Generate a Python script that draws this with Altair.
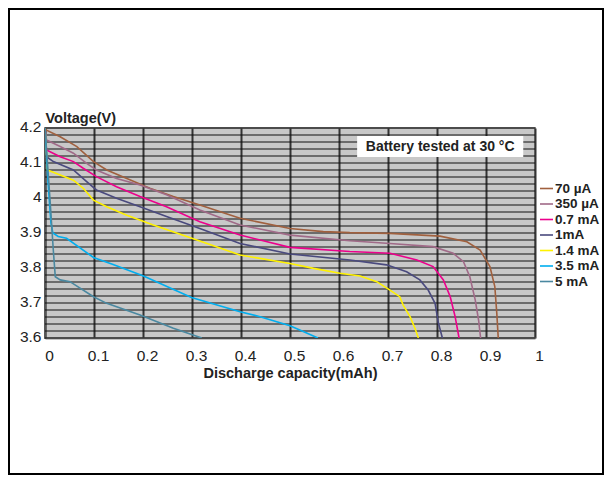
import altair as alt
import pandas as pd

series_names = ["70 µA", "350 µA", "0.7 mA", "1mA", "1.4 mA", "3.5 mA", "5 mA"]
series_colors = ["#a0603e", "#a06a88", "#ec008c", "#4a4a7e", "#fff200", "#00aeef", "#4a88a0"]
series_widths = [1.6, 1.6, 3.0, 1.6, 1.6, 1.6, 1.6]

s70_x = [0, 0.003, 0.031, 0.065, 0.099, 0.126, 0.167, 0.214, 0.262, 0.316, 0.398, 0.5, 0.568, 0.622, 0.704, 0.806, 0.861, 0.888, 0.908, 0.918, 0.922, 0.925]
s70_y = [4.2, 4.194, 4.175, 4.147, 4.104, 4.08, 4.056, 4.028, 4.004, 3.98, 3.942, 3.913, 3.904, 3.901, 3.899, 3.891, 3.875, 3.851, 3.804, 3.747, 3.671, 3.6]

s350_x = [0, 0.003, 0.031, 0.058, 0.085, 0.105, 0.146, 0.194, 0.248, 0.316, 0.398, 0.5, 0.622, 0.704, 0.792, 0.833, 0.854, 0.867, 0.878, 0.885, 0.889]
s350_y = [4.2, 4.166, 4.147, 4.128, 4.099, 4.08, 4.056, 4.037, 4.009, 3.966, 3.923, 3.894, 3.878, 3.870, 3.861, 3.842, 3.818, 3.775, 3.709, 3.65, 3.6]

s07_x = [0, 0.003, 0.031, 0.058, 0.078, 0.105, 0.146, 0.194, 0.248, 0.316, 0.398, 0.5, 0.622, 0.704, 0.759, 0.792, 0.813, 0.827, 0.837, 0.845]
s07_y = [4.2, 4.137, 4.118, 4.104, 4.085, 4.061, 4.032, 4.004, 3.975, 3.932, 3.894, 3.859, 3.847, 3.842, 3.823, 3.804, 3.766, 3.718, 3.661, 3.6]

s1_x = [0, 0.003, 0.017, 0.058, 0.085, 0.105, 0.146, 0.194, 0.248, 0.316, 0.398, 0.5, 0.622, 0.697, 0.738, 0.765, 0.782, 0.796, 0.803, 0.811]
s1_y = [4.2, 4.118, 4.104, 4.08, 4.047, 4.023, 3.999, 3.975, 3.947, 3.913, 3.87, 3.84, 3.823, 3.809, 3.789, 3.766, 3.737, 3.699, 3.642, 3.6]

s14_x = [0, 0.005, 0.031, 0.058, 0.078, 0.099, 0.126, 0.167, 0.221, 0.31, 0.398, 0.5, 0.548, 0.602, 0.643, 0.677, 0.704, 0.724, 0.731, 0.745, 0.755, 0.762]
s14_y = [4.2, 4.08, 4.066, 4.051, 4.028, 3.994, 3.975, 3.951, 3.923, 3.88, 3.837, 3.813, 3.799, 3.785, 3.777, 3.761, 3.737, 3.718, 3.694, 3.661, 3.628, 3.6]

s35_x = [0, 0.006, 0.012, 0.016, 0.027, 0.044, 0.099, 0.139, 0.201, 0.299, 0.398, 0.439, 0.5, 0.52, 0.557]
s35_y = [4.2, 4.05, 3.93, 3.9, 3.89, 3.885, 3.83, 3.81, 3.777, 3.716, 3.675, 3.661, 3.635, 3.623, 3.6]

s5_x = [0, 0.01, 0.017, 0.021, 0.031, 0.051, 0.099, 0.126, 0.194, 0.262, 0.32]
s5_y = [4.2, 4.0, 3.85, 3.775, 3.766, 3.761, 3.718, 3.699, 3.666, 3.628, 3.6]

x_ticks = [round(i * 0.1, 1) for i in range(11)]
y_ticks = [round(3.6 + i * 0.1, 1) for i in range(7)]
y_grid = [round(3.6 + i * 0.02, 2) for i in range(31)]

annotation_text = "Battery tested at 30 °C"
annotation_box = {"x": 0.637, "x2": 0.976, "y": 4.177, "y2": 4.117}

all_x = [s70_x, s350_x, s07_x, s1_x, s14_x, s35_x, s5_x]
all_y = [s70_y, s350_y, s07_y, s1_y, s14_y, s35_y, s5_y]

rows = []
for name, xs, ys in zip(series_names, all_x, all_y):
    for i, (xv, yv) in enumerate(zip(xs, ys)):
        rows.append({"series": name, "cap": xv, "volt": yv, "order": i})
df = pd.DataFrame(rows)

FONT = "Liberation Sans"
xscale = alt.Scale(domain=[0, 1], nice=False, zero=False)
yscale = alt.Scale(domain=[3.6, 4.2], nice=False, zero=False)

x_axis = alt.Axis(
    values=x_ticks, title="Discharge capacity(mAh)", grid=True,
    gridColor="#333333", gridWidth=2, tickSize=0, labelPadding=10,
    labelOffset=4, labelFontSize=15.5, labelColor="#222222",
    labelFont=FONT, labelExpr="format(datum.value, '.1~f')",
    titleFontSize=14.5, titleFontWeight="bold", titleFont=FONT, titleColor="#222222",
    titleY=28, titleBaseline="top", domainColor="#888888", domainWidth=2,
    labelFlush=False,
)
y_axis = alt.Axis(
    values=y_ticks, title="Voltage(V)", grid=False,
    tickSize=0, labelPadding=4, labelOffset=-2, labelFontSize=15.5,
    labelColor="#222222", labelFont=FONT,
    labelExpr="format(datum.value, '.1~f') == '4' ? '4\u2007' : format(datum.value, '.1~f')",
    titleAngle=0, titleAlign="left", titleX=0, titleY=-6, titleBaseline="alphabetic",
    titleFontSize=14.5, titleFontWeight="bold", titleFont=FONT, titleColor="#222222",
    domainColor="#555555", domainWidth=2, labelFlush=False, labelOverlap=False,
)

grid = alt.Chart(pd.DataFrame({"volt": y_grid})).mark_rule(
    color="#111111", strokeWidth=1.2
).encode(y=alt.Y("volt:Q", scale=yscale, axis=y_axis))

legend_kw = dict(
    title=None, orient="none", legendX=494, legendY=53,
    symbolType="stroke", symbolSize=169, labelFontSize=13.5,
    labelFontWeight="bold", labelFont=FONT, labelColor="#222222",
    rowPadding=1.5, labelOffset=1,
)

lines = alt.Chart(df).mark_line(clip=True).encode(
    x=alt.X("cap:Q", scale=xscale, axis=x_axis),
    y=alt.Y("volt:Q", scale=yscale, axis=y_axis),
    order="order:Q",
    color=alt.Color(
        "series:N",
        scale=alt.Scale(domain=series_names, range=series_colors),
        legend=alt.Legend(**legend_kw),
    ),
    strokeWidth=alt.StrokeWidth(
        "series:N",
        scale=alt.Scale(domain=series_names, range=series_widths),
        legend=alt.Legend(**legend_kw),
    ),
)

box_df = pd.DataFrame([dict(annotation_box, label=annotation_text)])
box = alt.Chart(box_df).mark_rect(color="white").encode(
    x=alt.X("x:Q", scale=xscale, axis=x_axis), x2="x2:Q",
    y=alt.Y("y:Q", scale=yscale, axis=y_axis), y2="y2:Q",
)
label = alt.Chart(box_df).mark_text(
    font=FONT, fontSize=14, fontWeight="bold", color="#222222", baseline="middle"
).encode(
    x=alt.X("xm:Q", scale=xscale, axis=x_axis),
    y=alt.Y("ym:Q", scale=yscale, axis=y_axis),
    text="label:N",
).transform_calculate(xm="(datum.x + datum.x2) / 2", ym="(datum.y + datum.y2) / 2")

frame = alt.Chart(pd.DataFrame({"a": [0]})).mark_rect(
    filled=False, stroke="black", strokeWidth=2
).encode(
    x=alt.value(-36), x2=alt.value(558), y=alt.value(-119), y2=alt.value(346)
)

chart = alt.layer(grid, lines, box, label, frame).properties(
    width=490, height=210,
    padding={"left": 37, "top": 120, "right": 69, "bottom": 138},
    autosize=alt.AutoSizeParams(type="none"),
    background="white",
).configure_view(
    fill="#c8c8c8", stroke="#888888", strokeWidth=2
)

chart.save("out.html", embed_options={"renderer": "svg", "actions": False})
